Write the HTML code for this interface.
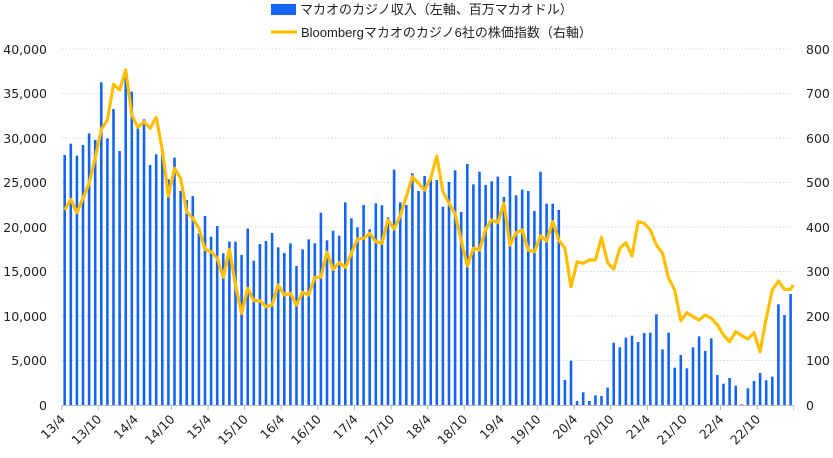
<!DOCTYPE html>
<html><head><meta charset="utf-8"><style>
body{margin:0;background:#fff;width:833px;height:454px;overflow:hidden;font-family:"DejaVu Sans","Noto Sans CJK JP",sans-serif;}
svg text{font-family:"DejaVu Sans","Noto Sans CJK JP",sans-serif;font-size:12.5px;fill:#222;}
svg text.lg{font-family:"Liberation Sans","Noto Sans CJK JP",sans-serif;font-size:13px;}
</style></head><body>
<svg id="c" width="833" height="454" viewBox="0 0 833 454">
<g id="grid"></g>
<g id="bars"></g>
<polyline id="ln" fill="none" stroke="#FFBF00" stroke-width="3.2" stroke-linejoin="round"/>
<line x1="61.7" y1="405.5" x2="793" y2="405.5" stroke="#bbb" stroke-width="1"/>
<g id="ticks"></g>
<g text-anchor="end">
<text x="47" y="54">40,000</text><text x="47" y="98">35,000</text><text x="47" y="143">30,000</text><text x="47" y="187">25,000</text><text x="47" y="232">20,000</text><text x="47" y="276">15,000</text><text x="47" y="321">10,000</text><text x="47" y="365">5,000</text><text x="47" y="410">0</text>
</g>
<g>
<text x="806" y="54">800</text><text x="806" y="98">700</text><text x="806" y="143">600</text><text x="806" y="187">500</text><text x="806" y="232">400</text><text x="806" y="276">300</text><text x="806" y="321">200</text><text x="806" y="365">100</text><text x="806" y="410">0</text>
</g>
<g text-anchor="end">
<text transform="translate(66,420) rotate(-45)">13/4</text>
<text transform="translate(102.3,420) rotate(-45)">13/10</text>
<text transform="translate(138.9,420) rotate(-45)">14/4</text>
<text transform="translate(175.5,420) rotate(-45)">14/10</text>
<text transform="translate(212.1,420) rotate(-45)">15/4</text>
<text transform="translate(248.7,420) rotate(-45)">15/10</text>
<text transform="translate(285.3,420) rotate(-45)">16/4</text>
<text transform="translate(321.9,420) rotate(-45)">16/10</text>
<text transform="translate(358.5,420) rotate(-45)">17/4</text>
<text transform="translate(395.1,420) rotate(-45)">17/10</text>
<text transform="translate(431.7,420) rotate(-45)">18/4</text>
<text transform="translate(468.3,420) rotate(-45)">18/10</text>
<text transform="translate(504.9,420) rotate(-45)">19/4</text>
<text transform="translate(541.5,420) rotate(-45)">19/10</text>
<text transform="translate(578.1,420) rotate(-45)">20/4</text>
<text transform="translate(614.7,420) rotate(-45)">20/10</text>
<text transform="translate(651.3,420) rotate(-45)">21/4</text>
<text transform="translate(687.9,420) rotate(-45)">21/10</text>
<text transform="translate(724.5,420) rotate(-45)">22/4</text>
<text transform="translate(761.1,420) rotate(-45)">22/10</text>
</g>
<rect x="271" y="4" width="25" height="11" fill="#1565F5"/>
<text class="lg" x="300" y="14">マカオのカジノ収入（左軸、百万マカオドル）</text>
<line x1="271" y1="32" x2="297" y2="32" stroke="#FFBF00" stroke-width="3.2"/>
<text class="lg" x="301" y="37">Bloombergマカオのカジノ6社の株価指数（右軸）</text>
</svg>
<script>
var NS="http://www.w3.org/2000/svg";
function el(t,a,p){var e=document.createElementNS(NS,t);for(var k in a)e.setAttribute(k,a[k]);document.getElementById(p).appendChild(e);}
for(var i=0;i<8;i++){var y=49+i*44.5;el("line",{x1:61.7,x2:793,y1:y,y2:y,stroke:"#c5d8f0","stroke-width":1,"stroke-dasharray":"1.5,2"},"grid");}
for(var k=0;k<=20;k++){var x=61.7+k*36.6;if(x>794)x=793;el("line",{x1:x,x2:x,y1:405,y2:410,stroke:"#bbb"},"ticks");}
var b1=[345,311,347,315,280,300,127,295,207,333,95,155,262,238,375,343,340,418,353,453,480,468,580,528,590,558,640,605,605,645,566,662,612,603,579,622,639,610,678,628,598,610];
var b2=[518,601,572,587,487,535,562,495,568,490,496,532,389,487,495,400,453,408,410,420,500,426,391,516,372,433,395,435,424,410,471,408,466,449,453,513,395,491,491,510,1020,962];
var b3=[753,727,753,736,738,713,578,592,563,557,576,549,548,493,598,548,653,615,655,592,559,603,565,675,701,684,707,763,715,693,669,691,680,463,495,432];
var b=b1.concat(b2,b3.map(function(v){return v+330;}));
b.forEach(function(z,i){var x=64.7+i*6.1,y=40+z/3;el("rect",{x:x-1.3,y:y,width:2.6,height:405-y,fill:"#1565F5"},"bars");});
var l1=[510,478,518,475,430,355,268,240,133,150,90,225,262,245,265,232,330,468,385,415,515,535,565,628,635,655,712,628,735,820,745,782,782,800,795,735,765,760,795,757,765,712];
var l2=[712,637,688,668,682,640,597,595,580,605,610,540,567,527,470,410,430,450,415,348,455,490,522,600,678,625,630,568,540,548,490,615,578,570,630,635,588,603,545,600,625,740];
var l3=[335,340,330,330,262,338,358,295,278,318,215,220,240,285,310,385,420,512,488,500,510,495,505,525,555,575,545,557,567,548,605,505,420,393,418,418];
var l=l1.concat(l2,l3.map(function(v){return v+330;}));
var pts=l.map(function(z,i){return (64.7+i*6.1).toFixed(1)+","+(40+z/3).toFixed(1);});
pts.push("793,"+(40+735/3).toFixed(1));
document.getElementById("ln").setAttribute("points",pts.join(" "));
</script>
</body></html>
